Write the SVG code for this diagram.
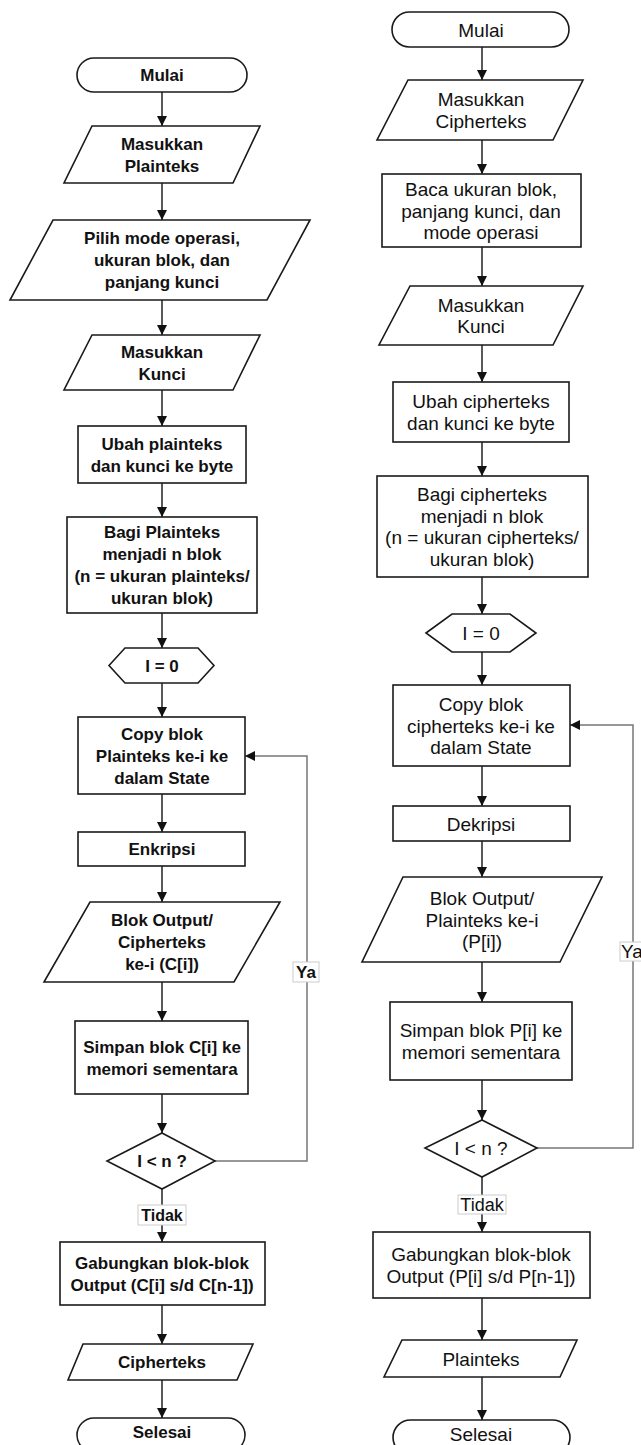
<svg xmlns="http://www.w3.org/2000/svg" width="641" height="1445" viewBox="0 0 641 1445">
<defs>
<style>
.s{fill:#fff;stroke:#1a1a1a;stroke-width:1.6}
.c{fill:none;stroke:#222;stroke-width:1.5}
.loop{fill:none;stroke:#777;stroke-width:1.5}
.lb{fill:#fff;stroke:#ccc;stroke-width:1}
.tl{font-family:"Liberation Sans",Arial,sans-serif;font-size:17px;font-weight:bold;fill:#111;text-anchor:middle}
.tr{font-family:"Liberation Sans",Arial,sans-serif;font-size:19px;fill:#111;text-anchor:middle}
</style>
<marker id="ah" viewBox="0 0 10 10" refX="10" refY="5" markerWidth="10" markerHeight="10" markerUnits="userSpaceOnUse" orient="auto">
<path d="M0,0 L10,5 L0,10 z" fill="#111"/>
</marker>
</defs>
<rect width="641" height="1445" fill="#fff"/>

<g id="connectors">
<path class="c" marker-end="url(#ah)" d="M162,92 V126"/>
<path class="c" marker-end="url(#ah)" d="M162,183 V220"/>
<path class="c" marker-end="url(#ah)" d="M162,300 V335"/>
<path class="c" marker-end="url(#ah)" d="M162,390 V426"/>
<path class="c" marker-end="url(#ah)" d="M162,483 V517"/>
<path class="c" marker-end="url(#ah)" d="M162,613 V648"/>
<path class="c" marker-end="url(#ah)" d="M162,683 V717"/>
<path class="c" marker-end="url(#ah)" d="M162,794 V832"/>
<path class="c" marker-end="url(#ah)" d="M162,866 V902"/>
<path class="c" marker-end="url(#ah)" d="M162,982 V1021"/>
<path class="c" marker-end="url(#ah)" d="M162,1094 V1133"/>
<path class="c" marker-end="url(#ah)" d="M162,1189 V1242"/>
<path class="c" marker-end="url(#ah)" d="M162,1305 V1344"/>
<path class="c" marker-end="url(#ah)" d="M162,1380 V1418"/>
<path class="loop" marker-end="url(#ah)" d="M215,1161 H307 V756 H245"/>

<path class="c" marker-end="url(#ah)" d="M482,47 V80"/>
<path class="c" marker-end="url(#ah)" d="M482,140 V174"/>
<path class="c" marker-end="url(#ah)" d="M482,247 V286"/>
<path class="c" marker-end="url(#ah)" d="M482,345 V382"/>
<path class="c" marker-end="url(#ah)" d="M482,442 V476"/>
<path class="c" marker-end="url(#ah)" d="M482,577 V614"/>
<path class="c" marker-end="url(#ah)" d="M482,652 V685"/>
<path class="c" marker-end="url(#ah)" d="M482,766 V806"/>
<path class="c" marker-end="url(#ah)" d="M482,841 V877"/>
<path class="c" marker-end="url(#ah)" d="M482,962 V1002"/>
<path class="c" marker-end="url(#ah)" d="M482,1080 V1120"/>
<path class="c" marker-end="url(#ah)" d="M482,1177 V1232"/>
<path class="c" marker-end="url(#ah)" d="M482,1298 V1340"/>
<path class="c" marker-end="url(#ah)" d="M482,1377 V1420"/>
<path class="loop" marker-end="url(#ah)" d="M537,1148 H633 V725 H570"/>

<g id="label-ya-left"><rect class="lb" x="293" y="962" width="26" height="20"/><text class="tl" x="306" y="978">Ya</text></g>
<g id="label-tidak-left"><rect class="lb" x="138" y="1205" width="48" height="20"/><text class="tl" x="162" y="1221" style="font-size:16px">Tidak</text></g>
<g id="label-ya-right"><rect class="lb" x="620" y="942" width="26" height="19"/><text class="tr" x="621" y="957.5" style="text-anchor:start">Ya</text></g>
<g id="label-tidak-right"><rect class="lb" x="458" y="1195" width="48" height="19"/><text class="tr" x="482" y="1210.5" style="font-size:18px">Tidak</text></g>
</g>

<!-- Left flowchart -->
<g id="L-mulai"><rect class="s" x="77" y="58" width="170" height="34" rx="17"/><text class="tl" x="162" y="81">Mulai</text></g>
<g id="L-masukkan-plainteks"><polygon class="s" points="92,126 260,126 233,183 64,183"/><text class="tl" x="162" y="149.5">Masukkan</text><text class="tl" x="162" y="171.5">Plainteks</text></g>
<g id="L-pilih"><polygon class="s" points="53,220 310,220 267,300 10,300"/><text class="tl" x="162" y="244">Pilih mode operasi,</text><text class="tl" x="162" y="266">ukuran blok, dan</text><text class="tl" x="162" y="288">panjang kunci</text></g>
<g id="L-masukkan-kunci"><polygon class="s" points="92,335 260,335 233,390 64,390"/><text class="tl" x="162" y="357.5">Masukkan</text><text class="tl" x="162" y="379.5">Kunci</text></g>
<g id="L-ubah"><rect class="s" x="78" y="426" width="168" height="57"/><text class="tl" x="162" y="449.5">Ubah plainteks</text><text class="tl" x="162" y="471.5">dan kunci ke byte</text></g>
<g id="L-bagi"><rect class="s" x="67" y="517" width="190" height="96"/><text class="tl" x="162" y="538">Bagi Plainteks</text><text class="tl" x="162" y="560">menjadi n blok</text><text class="tl" x="162" y="582">(n = ukuran plainteks/</text><text class="tl" x="162" y="604">ukuran blok)</text></g>
<g id="L-i0"><polygon class="s" points="109,665.5 125,648 198,648 214,665.5 198,683 125,683"/><text class="tl" x="162" y="671.5">I = 0</text></g>
<g id="L-copy"><rect class="s" x="78" y="717" width="167" height="77"/><text class="tl" x="162" y="739.5">Copy blok</text><text class="tl" x="162" y="761.5">Plainteks ke-i ke</text><text class="tl" x="162" y="783.5">dalam State</text></g>
<g id="L-enkripsi"><rect class="s" x="78" y="832" width="167" height="34"/><text class="tl" x="162" y="855">Enkripsi</text></g>
<g id="L-blok-output"><polygon class="s" points="90,902 280,902 234,982 44,982"/><text class="tl" x="162" y="926">Blok Output/</text><text class="tl" x="162" y="948">Cipherteks</text><text class="tl" x="162" y="970">ke-i (C[i])</text></g>
<g id="L-simpan"><rect class="s" x="75" y="1021" width="173" height="73"/><text class="tl" x="162" y="1052.5">Simpan blok C[i] ke</text><text class="tl" x="162" y="1074.5">memori sementara</text></g>
<g id="L-cek"><polygon class="s" points="162,1133 215,1161 162,1189 107,1161"/><text class="tl" x="162" y="1167">I &lt; n ?</text></g>
<g id="L-gabung"><rect class="s" x="60" y="1242" width="205" height="63"/><text class="tl" x="162" y="1268.5">Gabungkan blok-blok</text><text class="tl" x="162" y="1290.5">Output (C[i] s/d C[n-1])</text></g>
<g id="L-cipherteks"><polygon class="s" points="83,1344 253,1344 237,1380 68,1380"/><text class="tl" x="162" y="1368">Cipherteks</text></g>
<g id="L-selesai"><rect class="s" x="77" y="1418" width="168" height="34" rx="17"/><text class="tl" x="162" y="1438">Selesai</text></g>

<!-- Right flowchart -->
<g id="R-mulai"><rect class="s" x="392" y="12" width="177" height="35" rx="17.5"/><text class="tr" x="481" y="36.5">Mulai</text></g>
<g id="R-masukkan-cipherteks"><polygon class="s" points="408,80 583,80 553,140 377,140"/><text class="tr" x="481" y="106">Masukkan</text><text class="tr" x="481" y="127.5">Cipherteks</text></g>
<g id="R-baca"><rect class="s" x="382" y="174" width="199" height="73"/><text class="tr" x="481" y="196">Baca ukuran blok,</text><text class="tr" x="481" y="217.5">panjang kunci, dan</text><text class="tr" x="481" y="239">mode operasi</text></g>
<g id="R-masukkan-kunci"><polygon class="s" points="410,286 583,286 553,345 379,345"/><text class="tr" x="481" y="311.75">Masukkan</text><text class="tr" x="481" y="333.25">Kunci</text></g>
<g id="R-ubah"><rect class="s" x="393" y="382" width="176" height="60"/><text class="tr" x="481" y="408.25">Ubah cipherteks</text><text class="tr" x="481" y="429.75">dan kunci ke byte</text></g>
<g id="R-bagi"><rect class="s" x="377" y="476" width="211" height="101"/><text class="tr" x="482" y="501.25">Bagi cipherteks</text><text class="tr" x="482" y="522.75">menjadi n blok</text><text class="tr" x="482" y="544.25">(n = ukuran cipherteks/</text><text class="tr" x="482" y="565.75">ukuran blok)</text></g>
<g id="R-i0"><polygon class="s" points="426,633 452,614 510,614 536,633 510,652 452,652"/><text class="tr" x="481" y="640">I = 0</text></g>
<g id="R-copy"><rect class="s" x="393" y="685" width="177" height="81"/><text class="tr" x="481" y="711">Copy blok</text><text class="tr" x="481" y="732.5">cipherteks ke-i ke</text><text class="tr" x="481" y="754">dalam State</text></g>
<g id="R-dekripsi"><rect class="s" x="393" y="806" width="177" height="35"/><text class="tr" x="481" y="830.5">Dekripsi</text></g>
<g id="R-blok-output"><polygon class="s" points="403,877 602,877 560,962 362,962"/><text class="tr" x="482" y="905">Blok Output/</text><text class="tr" x="482" y="926.5">Plainteks ke-i</text><text class="tr" x="482" y="948">(P[i])</text></g>
<g id="R-simpan"><rect class="s" x="390" y="1002" width="182" height="78"/><text class="tr" x="481" y="1037.25">Simpan blok P[i] ke</text><text class="tr" x="481" y="1058.75">memori sementara</text></g>
<g id="R-cek"><polygon class="s" points="482,1120 537,1148 482,1177 425,1148"/><text class="tr" x="481" y="1155">I &lt; n ?</text></g>
<g id="R-gabung"><rect class="s" x="373" y="1232" width="217" height="66"/><text class="tr" x="481" y="1261.25">Gabungkan blok-blok</text><text class="tr" x="481" y="1282.75">Output (P[i] s/d P[n-1])</text></g>
<g id="R-plainteks"><polygon class="s" points="402,1340 577,1340 560,1377 384,1377"/><text class="tr" x="481" y="1365.5">Plainteks</text></g>
<g id="R-selesai"><rect class="s" x="393" y="1420" width="177" height="35" rx="17.5"/><text class="tr" x="481" y="1441">Selesai</text></g>
</svg>
